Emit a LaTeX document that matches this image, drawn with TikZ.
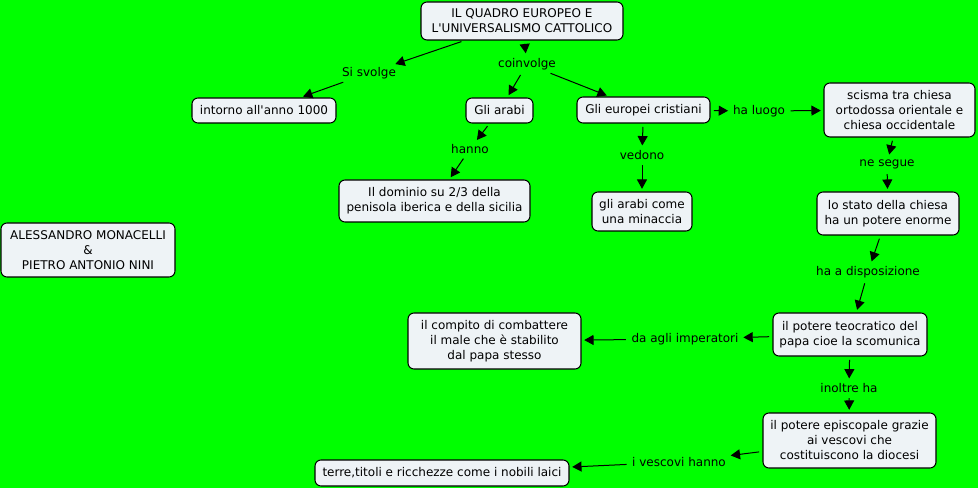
\documentclass[tikz,border=0pt]{standalone}
\usepackage{fontspec}
\setmainfont{DejaVu Sans}
\usetikzlibrary{arrows.meta}
\definecolor{bggreen}{RGB}{0,255,0}
\definecolor{boxfill}{RGB}{238,243,246}
\tikzset{
  concept/.style={draw=black, line width=0.8pt, fill=boxfill, rounded corners=4.5pt,
    align=center, inner sep=0pt, font=\fontsize{9}{11.25}\selectfont, text=black},
  linkphrase/.style={inner sep=1.5pt, font=\fontsize{9}{11.25}\selectfont, text=black},
  conn/.style={draw=black, line width=0.75pt, -{Triangle[length=7pt,width=7.5pt]},
    shorten <=2.5pt, shorten >=2pt}
}
\begin{document}
\begin{tikzpicture}[x=0.75pt,y=-0.75pt]
\fill[bggreen] (0,0) rectangle (978,488);
\useasboundingbox (0,0) rectangle (978,488);

% concepts
\node[concept, minimum width=151.5pt, minimum height=28.5pt] (title) at (522,21)
  {IL QUADRO EUROPEO E\\L\textquotesingle UNIVERSALISMO CATTOLICO};
\node[concept, minimum width=108pt, minimum height=18.75pt] (intorno) at (264,110.5)
  {intorno all\textquotesingle anno 1000};
\node[concept, minimum width=50.25pt, minimum height=18.75pt] (arabi) at (499.5,110.5)
  {Gli arabi};
\node[concept, minimum width=99.75pt, minimum height=19.5pt] (europei) at (643.5,110)
  {Gli europei cristiani};
\node[concept, minimum width=113.25pt, minimum height=40.5pt] (scisma) at (899.5,110)
  {scisma tra chiesa\\ortodossa orientale e\\chiesa occidentale};
\node[concept, minimum width=143.25pt, minimum height=31.5pt] (dominio) at (434.5,201)
  {Il dominio su 2/3 della\\penisola iberica e della sicilia};
\node[concept, minimum width=75pt, minimum height=29.25pt] (minaccia) at (642,211.5)
  {gli arabi come\\una minaccia};
\node[concept, minimum width=106.5pt, minimum height=32.25pt] (stato) at (888,213.5)
  {lo stato della chiesa\\ha un potere enorme};
\node[concept, minimum width=130.5pt, minimum height=40.5pt] (autori) at (88,250)
  {ALESSANDRO MONACELLI\\\&\\PIETRO ANTONIO NINI};
\node[concept, minimum width=129.75pt, minimum height=42pt] (compito) at (494.5,341)
  {il compito di combattere\\il male che è stabilito\\dal papa stesso};
\node[concept, minimum width=115.5pt, minimum height=32.25pt] (teocr) at (850,334.5)
  {il potere teocratico del\\papa cioe la scomunica};
\node[concept, minimum width=129.75pt, minimum height=41.25pt] (episc) at (849.5,440.5)
  {il potere episcopale grazie\\ai vescovi che\\costituiscono la diocesi};
\node[concept, minimum width=190.5pt, minimum height=19.5pt] (terre) at (442,473)
  {terre,titoli e ricchezze come i nobili laici};

% linking phrases
\node[linkphrase] (sisvolge) at (369,73) {Si svolge};
\node[linkphrase] (coinvolge) at (527,64) {coinvolge};
\node[linkphrase] (hanno) at (470,149) {hanno};
\node[linkphrase] (vedono) at (642,155) {vedono};
\node[linkphrase] (haluogo) at (759,111) {ha luogo};
\node[linkphrase] (nesegue) at (887,164) {ne segue};
\node[linkphrase] (hadisp) at (868,272) {ha a disposizione};
\node[linkphrase] (daagli) at (685,339) {da agli imperatori};
\node[linkphrase] (inoltre) at (849,388) {inoltre ha};
\node[linkphrase] (vescovi) at (679,462) {i vescovi hanno};

% connectors
\draw[conn] (title) -- (sisvolge);
\draw[conn] (sisvolge) -- (intorno);
\draw[conn] (title) -- (coinvolge);
\draw[conn] (coinvolge) -- (arabi);
\draw[conn] (coinvolge) -- (europei);
\draw[conn] (arabi) -- (hanno);
\draw[conn] (hanno) -- (dominio);
\draw[conn] (europei) -- (vedono);
\draw[conn] (vedono) -- (minaccia);
\draw[conn] (europei) -- (haluogo);
\draw[conn] (haluogo) -- (scisma);
\draw[conn] (scisma) -- (nesegue);
\draw[conn] (nesegue) -- (stato);
\draw[conn] (stato) -- (hadisp);
\draw[conn] (hadisp) -- (teocr);
\draw[conn] (teocr) -- (daagli);
\draw[conn] (daagli) -- (compito);
\draw[conn] (teocr) -- (inoltre);
\draw[conn] (inoltre) -- (episc);
\draw[conn] (episc) -- (vescovi);
\draw[conn] (vescovi) -- (terre);
\end{tikzpicture}
\end{document}
